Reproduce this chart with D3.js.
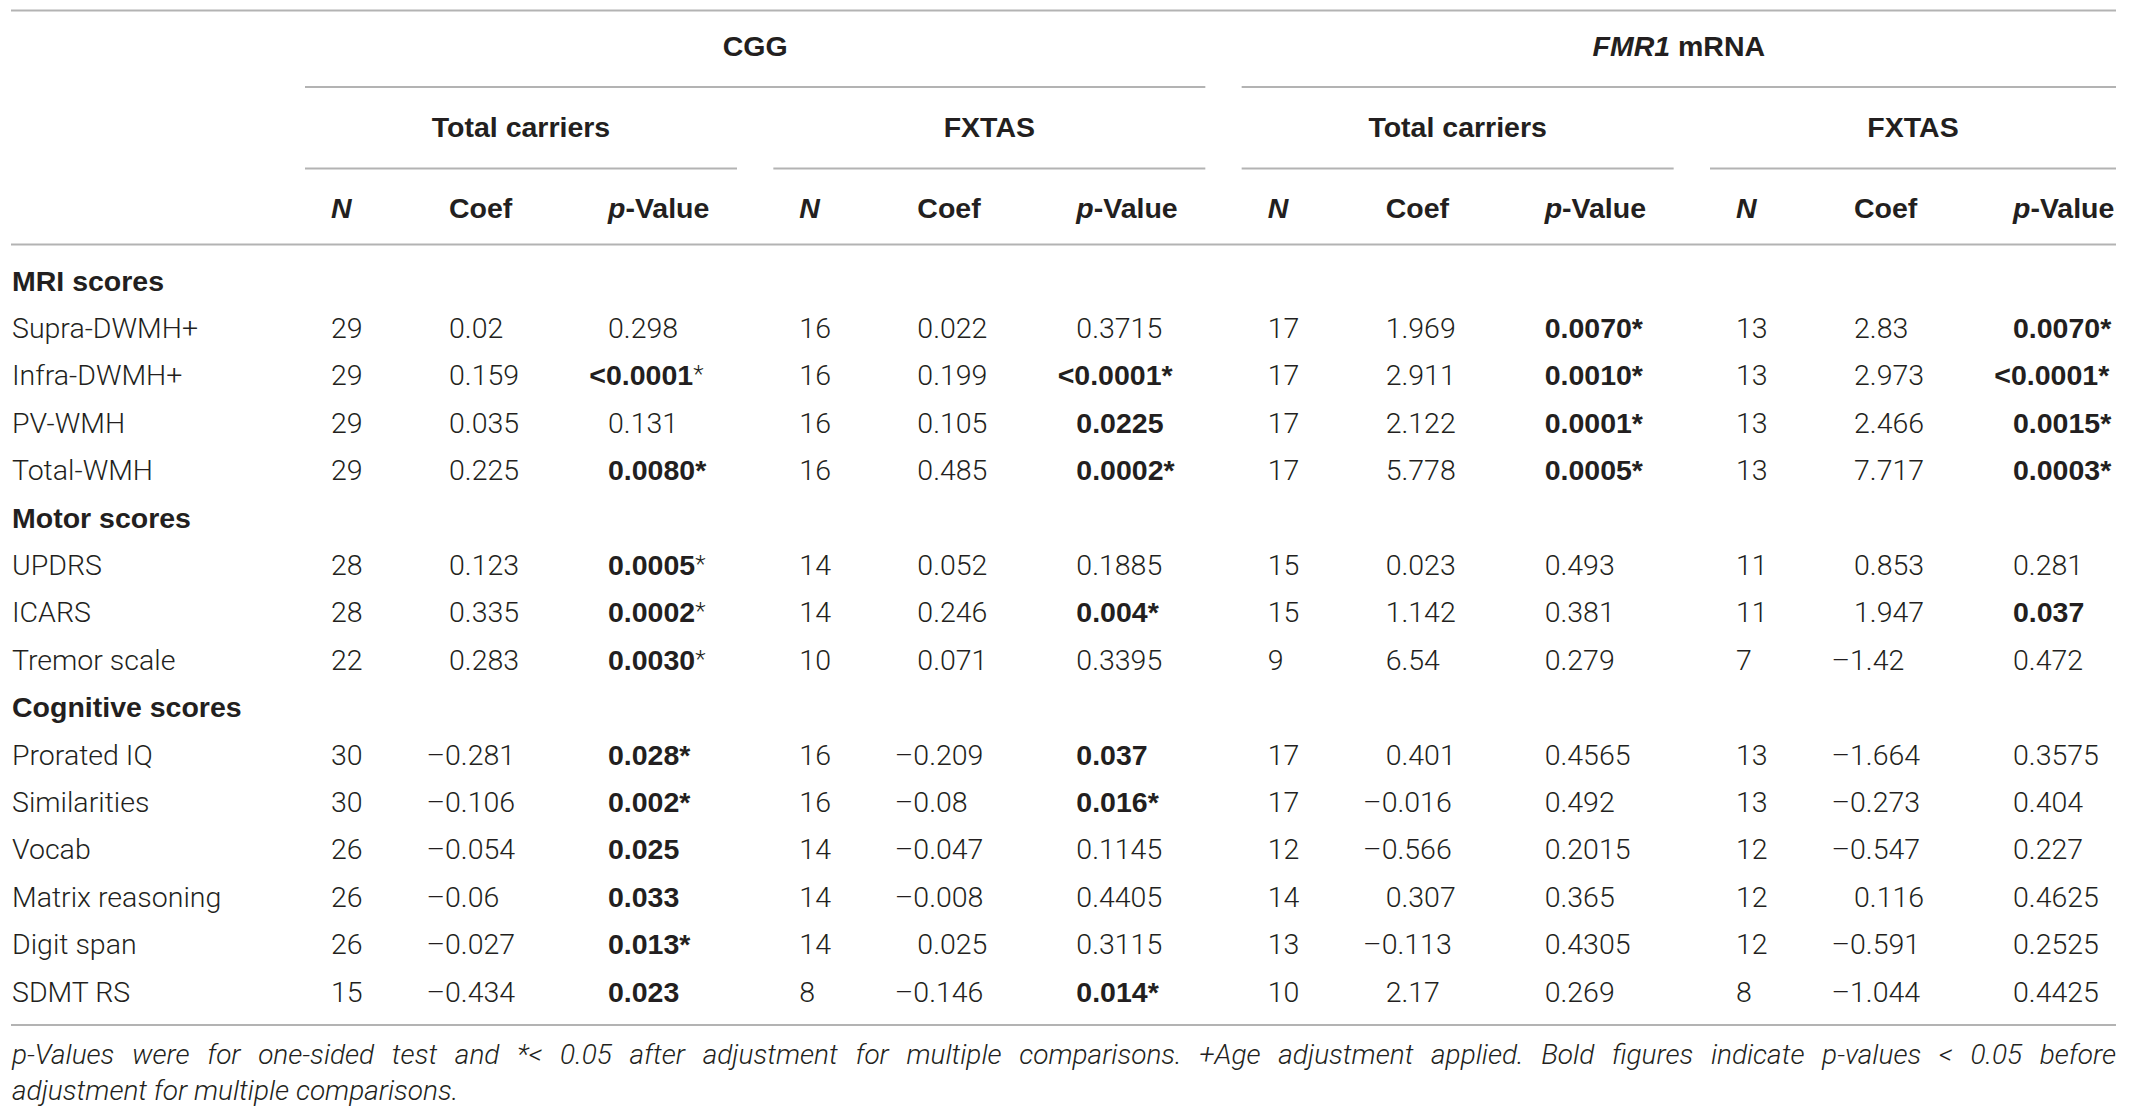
<!DOCTYPE html>
<html>
<head>
<meta charset="utf-8">
<script src="https://cdn.jsdelivr.net/npm/d3@7"></script>
<style>
  html, body { margin: 0; padding: 0; background: #fff; }
  svg { display: block; }
  .light { font-family: Roboto, "Liberation Sans", sans-serif; font-weight: 300; fill: #231f20; }
  .bold { font-family: "Liberation Sans", Arial, sans-serif; font-weight: 700; fill: #231f20; }
  .rule { stroke: #b3b3b3; stroke-width: 2; }
</style>
</head>
<body>
<div id="chart"></div>
<script>
const groupLabels = ["CGG", "FMR1 mRNA"];
const subgroupLabels = ["Total carriers", "FXTAS", "Total carriers", "FXTAS"];
const columnLabels = ["N", "Coef", "p-Value"];

const sectionLabels = ["MRI scores", "Motor scores", "Cognitive scores"];
const bodyRows = [
  "MRI scores", "Supra-DWMH+", "Infra-DWMH+", "PV-WMH", "Total-WMH",
  "Motor scores", "UPDRS", "ICARS", "Tremor scale",
  "Cognitive scores", "Prorated IQ", "Similarities", "Vocab", "Matrix reasoning", "Digit span", "SDMT RS"
];

// one entry per data row, four subgroups each
const nValues = [
  [29, 16, 17, 13], [29, 16, 17, 13], [29, 16, 17, 13], [29, 16, 17, 13],
  [28, 14, 15, 11], [28, 14, 15, 11], [22, 10, 9, 7],
  [30, 16, 17, 13], [30, 16, 17, 13], [26, 14, 12, 12], [26, 14, 14, 12], [26, 14, 13, 12], [15, 8, 10, 8]
];
const coefValues = [
  [0.02, 0.022, 1.969, 2.83], [0.159, 0.199, 2.911, 2.973], [0.035, 0.105, 2.122, 2.466], [0.225, 0.485, 5.778, 7.717],
  [0.123, 0.052, 0.023, 0.853], [0.335, 0.246, 1.142, 1.947], [0.283, 0.071, 6.54, -1.42],
  [-0.281, -0.209, 0.401, -1.664], [-0.106, -0.08, -0.016, -0.273], [-0.054, -0.047, -0.566, -0.547],
  [-0.06, -0.008, 0.307, 0.116], [-0.027, 0.025, -0.113, -0.591], [-0.434, -0.146, 2.17, -1.044]
];
const pValues = [
  ["0.298", "0.3715", "0.0070*", "0.0070*"],
  ["<0.0001*", "<0.0001*", "0.0010*", "<0.0001*"],
  ["0.131", "0.0225", "0.0001*", "0.0015*"],
  ["0.0080*", "0.0002*", "0.0005*", "0.0003*"],
  ["0.0005*", "0.1885", "0.493", "0.281"],
  ["0.0002*", "0.004*", "0.381", "0.037"],
  ["0.0030*", "0.3395", "0.279", "0.472"],
  ["0.028*", "0.037", "0.4565", "0.3575"],
  ["0.002*", "0.016*", "0.492", "0.404"],
  ["0.025", "0.1145", "0.2015", "0.227"],
  ["0.033", "0.4405", "0.365", "0.4625"],
  ["0.013*", "0.3115", "0.4305", "0.2525"],
  ["0.023", "0.014*", "0.269", "0.4425"]
];
// cells whose asterisk is set in the light face: [data row, subgroup]
const lightStarCells = [[1, 0], [4, 0], [5, 0], [6, 0]];

const footnoteLines = [
  "p-Values were for one-sided test and *< 0.05 after adjustment for multiple comparisons. +Age adjustment applied. Bold figures indicate p-values < 0.05 before",
  "adjustment for multiple comparisons."
];

const width = 2129, height = 1117;
const left = 11, right = 2116;
const fontSize = 28.5;

const svg = d3.select("#chart").append("svg").attr("width", width).attr("height", height);

const y = d3.scaleLinear().domain([0, bodyRows.length - 1]).range([290.5, 1001.5]);
const gx = d3.scaleLinear().domain([0, subgroupLabels.length - 1]).range([331, 1736]);
const colOffset = d3.scaleOrdinal().domain(columnLabels).range([0, 118, 277]);

// rules
const rules = svg.append("g");
const hline = (x1, x2, yy) => rules.append("line").attr("class", "rule").attr("x1", x1).attr("x2", x2).attr("y1", yy).attr("y2", yy);
hline(left, right, 10.5);
hline(left, right, 244.5);
hline(left, right, 1025);

const subSpan = (i) => [gx(i) - 26, Math.min(gx(i) + 406, right)];
subgroupLabels.forEach((_, i) => {
  const [a, b] = subSpan(i);
  hline(a, b, 168.5);
});
groupLabels.forEach((_, g) => {
  const a = subSpan(g * 2)[0], b = subSpan(g * 2 + 1)[1];
  hline(a, b, 87);
});

// group headers
const head = svg.append("g");
groupLabels.forEach((label, g) => {
  const a = subSpan(g * 2)[0], b = subSpan(g * 2 + 1)[1];
  const t = head.append("text").attr("class", "bold").attr("x", (a + b) / 2).attr("y", 56)
    .attr("text-anchor", "middle").attr("font-size", fontSize);
  if (label.startsWith("FMR1")) {
    t.append("tspan").attr("font-style", "italic").text("FMR1");
    t.append("tspan").text(label.slice(4));
  } else {
    t.text(label);
  }
});
subgroupLabels.forEach((label, i) => {
  const [a, b] = subSpan(i);
  head.append("text").attr("class", "bold").attr("x", (a + b) / 2).attr("y", 137)
    .attr("text-anchor", "middle").attr("font-size", fontSize).text(label);
});
subgroupLabels.forEach((_, i) => {
  columnLabels.forEach((c) => {
    const t = head.append("text").attr("class", "bold").attr("x", gx(i) + colOffset(c)).attr("y", 218)
      .attr("font-size", fontSize);
    if (c === "N") t.attr("font-style", "italic").text("N");
    else if (c === "p-Value") {
      t.append("tspan").attr("font-style", "italic").text("p");
      t.append("tspan").text("-Value");
    } else t.text(c);
  });
});

// body
const body = svg.append("g");
let dataRow = -1;
bodyRows.forEach((label, r) => {
  const isSection = sectionLabels.includes(label);
  body.append("text").attr("class", isSection ? "bold" : "light")
    .attr("x", left + 1).attr("y", y(r)).attr("font-size", fontSize)
    .attr("textLength", isSection ? null : null)
    .text(label);
  if (isSection) return;
  dataRow += 1;
  const d = dataRow;
  subgroupLabels.forEach((_, i) => {
    // N
    body.append("text").attr("class", "light").attr("x", gx(i) + colOffset("N")).attr("y", y(r))
      .attr("font-size", fontSize).text(nValues[d][i]);

    // Coef, minus sign hangs to the left
    const coef = coefValues[d][i];
    const ct = body.append("text").attr("class", "light").attr("y", y(r)).attr("font-size", fontSize);
    const cx = gx(i) + colOffset("Coef");
    if (coef < 0) {
      const m = ct.append("tspan").text("\u2013");
      ct.append("tspan").text(String(Math.abs(coef)));
      ct.attr("x", cx - m.node().getComputedTextLength() - 4);
    } else {
      ct.attr("x", cx).text(String(coef));
    }

    // p-value, bold when below 0.05
    const p = pValues[d][i];
    const num = parseFloat(p.replace("<", "").replace("*", ""));
    const isBold = num < 0.05;
    const hasStar = p.endsWith("*");
    const core = p.replace("*", "");
    const px = gx(i) + colOffset("p-Value");
    const pt = body.append("text").attr("class", isBold ? "bold" : "light").attr("y", y(r)).attr("font-size", fontSize);
    let shift = 0;
    if (core.startsWith("<")) {
      const lt = pt.append("tspan").text("<");
      pt.append("tspan").text(core.slice(1));
      shift = lt.node().getComputedTextLength() + 2;
    } else {
      pt.append("tspan").text(core);
    }
    if (hasStar) {
      const light = lightStarCells.some(([rr, gg]) => rr === d && gg === i);
      const st = pt.append("tspan").text("*");
      if (light) st.attr("class", "light").attr("font-size", fontSize * 0.85).attr("dy", -3);
    }
    pt.attr("x", px - shift);
  });
});

// footnote, first line justified across the table width
const foot = svg.append("g");
footnoteLines.forEach((line, k) => {
  const t = foot.append("text").attr("class", "light").attr("font-style", "italic")
    .attr("x", left + 1).attr("y", 1064 + k * 35.5).attr("font-size", 28).text(line);
  if (k === 0) {
    const natural = t.node().getComputedTextLength();
    const spaces = line.split(" ").length - 1;
    t.attr("word-spacing", (right - left - 1 - natural) / spaces);
  }
});
</script>
</body>
</html>
